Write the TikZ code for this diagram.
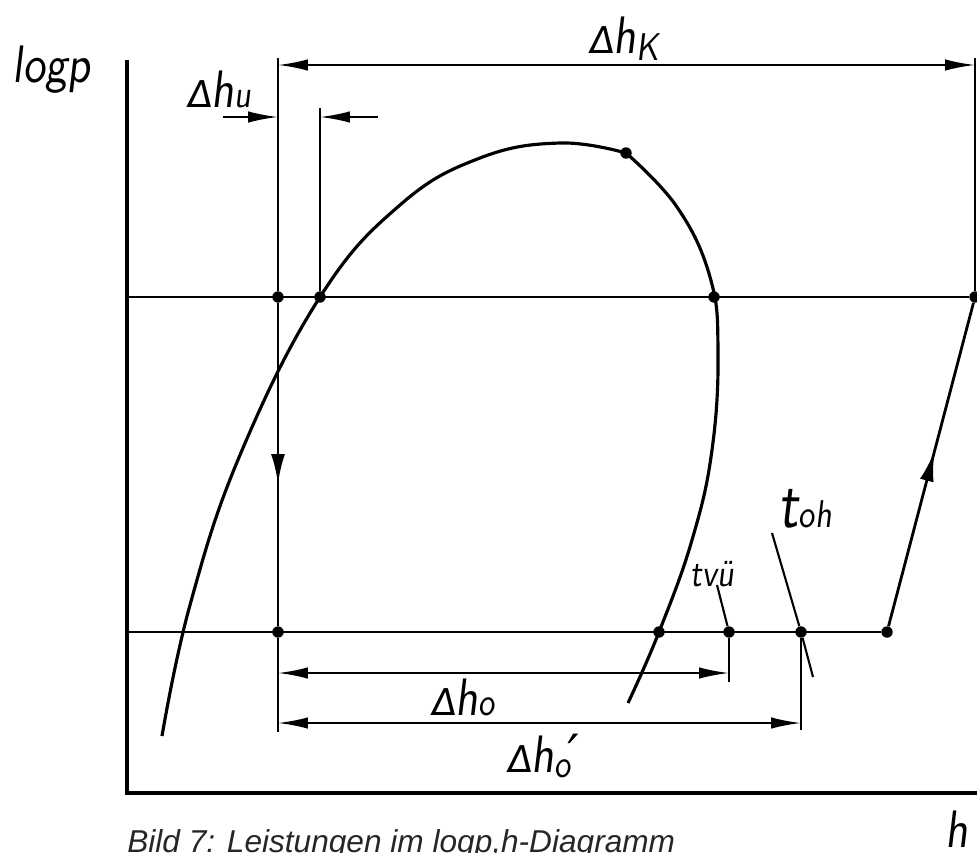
\documentclass[tikz,border=0pt]{standalone}
\usepackage{fontspec}
\usepackage{tikz}
\usetikzlibrary{arrows.meta, decorations.markings}

\newfontfamily\handfont[FakeSlant=0.12, FakeStretch=0.85]{lmsans10-regular.otf}
\newfontfamily\deltafont[FakeSlant=0.12]{DejaVu Sans}
\newfontfamily\capfont{Liberation Sans}

\newcommand\dlt{{\deltafont\fontsize{21}{21}\selectfont Δ}}
\newcommand\ind[1]{{\fontsize{22}{22}\selectfont #1}}

\begin{document}
\begin{tikzpicture}[x=0.02cm, y=-0.02cm,
    axis/.style={line width=2.4pt},
    pline/.style={line width=1.6pt},
    curve/.style={line width=1.8pt},
    extline/.style={line width=1pt},
    dimarr/.style={line width=1.2pt, {Latex[length=17pt,width=6.5pt]}-{Latex[length=17pt,width=6.5pt]}},
    halfarr/.style={line width=1.2pt, -{Latex[length=17pt,width=6.5pt]}},
    midarr/.style={postaction={decorate}, decoration={markings,
                   mark=at position #1 with {\arrow{Latex[length=17pt,width=8pt]}}}},
    dot/.style={circle, fill, inner sep=0pt, minimum size=6.5pt},
    lbl/.style={inner sep=0pt, anchor=base west, font=\handfont\fontsize{30}{30}\selectfont},
]
\useasboundingbox (0,0) rectangle (977,852);

% axes
\coordinate (ytop) at (127,60);
\coordinate (org)  at (127,793);
\coordinate (xend) at (977,793);
\draw[axis] (ytop) -- (org) -- (xend);

% pressure levels: condensing (top) and evaporating (bottom)
\node[dot] (hA) at (278,297) {};
\node[dot] (hB) at (320,297) {};
\node[dot] (hC) at (714,297) {};
\node[dot] (hD) at (975,297) {};
\node[dot] (lA) at (278,632) {};
\node[dot] (lB) at (659,632) {};
\node[dot] (lC) at (729,632) {};
\node[dot] (lD) at (801,632) {};
\node[dot] (lE) at (887,632) {};
\node[dot] (crit) at (626,153) {};
\coordinate (hstart) at (127,297);
\coordinate (lstart) at (127,632);
\draw[pline] (hstart) -- (hD);
\draw[pline] (lstart) -- (lE);

% two-phase dome
\draw[curve] plot[smooth, tension=0.7] coordinates {
    (162,736) (190,605) (240,455) (320,297) (400,205) (480,158) (560,143) (626,153)};
\draw[curve] plot[smooth, tension=0.7] coordinates {
    (626,153) (677,207) (710,277) (718,350) (712,450) (692,540) (659,632) (628,703)};

% throttling and compression
\draw[pline, midarr=0.56] (hA) -- (lA);
\draw[pline, midarr=0.54] (lE) -- (hD);

% extension lines
\coordinate (eA) at (278,58);
\coordinate (eD) at (975,58);
\coordinate (eB) at (320,108);
\coordinate (eAlow) at (278,732);
\coordinate (eClow) at (729,682);
\coordinate (eDlow) at (801,730);
\draw[extline] (eA) -- (hA);
\draw[extline] (eD) -- (hD);
\draw[extline] (eB) -- (hB);
\draw[extline] (lA) -- (eAlow);
\draw[extline] (lC) -- (eClow);
\draw[extline] (lD) -- (eDlow);

% isotherms t_vü and t_oh
\coordinate (vtop) at (717,585);
\coordinate (ttop) at (772,533);
\coordinate (tbot) at (813,677);
\draw[extline, line width=1.2pt] (vtop) -- (lC);
\draw[extline, line width=1.2pt] (ttop) -- (lD) -- (tbot);

% dimension lines
\coordinate (kL) at (278,65);
\coordinate (kR) at (975,65);
\draw[dimarr] (kL) -- (kR);
\coordinate (uL0) at (223,117);
\coordinate (uL)  at (278,117);
\coordinate (uR0) at (378,117);
\coordinate (uR)  at (320,117);
\draw[halfarr] (uL0) -- (uL);
\draw[halfarr] (uR0) -- (uR);
\coordinate (oL) at (278,673);
\coordinate (oR) at (729,673);
\draw[dimarr] (oL) -- (oR);
\coordinate (pL) at (278,723);
\coordinate (pR) at (801,723);
\draw[dimarr] (pL) -- (pR);

% labels
\node[lbl] (logp) at (12,82)   {logp};
\node[lbl] (dhu)  at (186,107) {\dlt h\ind{u}};
\node[lbl] (dhk)  at (588,53)  {\dlt h\raisebox{-4pt}{\ind{K}}};
\node[lbl] (dho)  at (430,715) {\dlt h\ind{o}};
\node[lbl] (dhop) at (506,772) {\dlt h\rlap{\raisebox{-3pt}{\ind{o}}}{\deltafont\fontsize{30}{30}\selectfont\,′}};
\node[lbl, font=\handfont\fontsize{22}{22}\selectfont] (tvu) at (690,586) {tvü};
\node[lbl] (toh)  at (778,527) {{\fontsize{38}{38}\selectfont t}\ind{oh}};
\node[lbl] (hax)  at (945,847) {h};

% caption
\node[inner sep=0pt, anchor=base west, text=black!85,
      font=\capfont\itshape\fontsize{18}{18}\selectfont] (cap) at (127,852)
      {Bild 7: Leistungen im logp,h-Diagramm};
\end{tikzpicture}
\end{document}
